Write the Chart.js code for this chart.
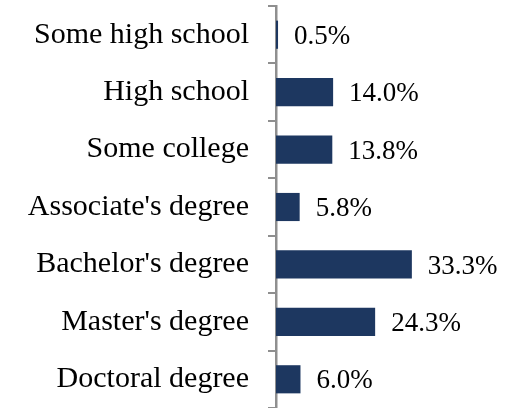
<!DOCTYPE html>
<html>
<head>
<meta charset="utf-8">
<script src="https://cdn.jsdelivr.net/npm/chart.js@4"></script>
<style>
  html, body { margin: 0; padding: 0; background: #ffffff; }
  #wrap { width: 505px; height: 408px; }
</style>
</head>
<body>
<div id="wrap"><canvas id="c" width="505" height="408"></canvas></div>
<script>
const categories = ["Some high school", "High school", "Some college", "Associate's degree", "Bachelor's degree", "Master's degree", "Doctoral degree"];
const shares = [0.5, 14.0, 13.8, 5.8, 33.3, 24.3, 6.0];

const valueLabels = {
  id: 'valueLabels',
  afterDatasetsDraw(chart) {
    const ctx = chart.ctx;
    const meta = chart.getDatasetMeta(0);
    ctx.save();
    ctx.font = '27px "Liberation Serif"';
    ctx.fillStyle = '#000000';
    ctx.textAlign = 'left';
    ctx.textBaseline = 'middle';
    meta.data.forEach((el, i) => {
      ctx.fillText(shares[i].toFixed(1) + '%', el.x + 16, el.y + 2);
    });
    ctx.restore();
  }
};

new Chart(document.getElementById('c'), {
  type: 'bar',
  data: {
    labels: categories,
    datasets: [{
      data: shares,
      backgroundColor: '#1D3760',
      borderWidth: 0,
      barPercentage: 0.49,
      categoryPercentage: 1.0
    }]
  },
  options: {
    indexAxis: 'y',
    responsive: false,
    animation: false,
    layout: { padding: { left: 0, top: 6, right: 25, bottom: 0 } },
    plugins: { legend: { display: false }, tooltip: { enabled: false } },
    scales: {
      x: { display: false, min: 0, max: 50 },
      y: {
        afterFit(scale) {
          scale.width = 276;
          scale.paddingTop = 0;
          scale.paddingBottom = 0;
        },
        grid: {
          display: true,
          drawOnChartArea: false,
          drawTicks: true,
          tickLength: 8,
          color: '#8f8f8f',
          lineWidth: 2
        },
        border: { display: true, color: '#8f8f8f', width: 2.5 },
        ticks: {
          color: '#000000',
          padding: 19,
          font: { family: '"Liberation Serif"', size: 30 }
        }
      }
    }
  },
  plugins: [valueLabels]
});
</script>
</body>
</html>
